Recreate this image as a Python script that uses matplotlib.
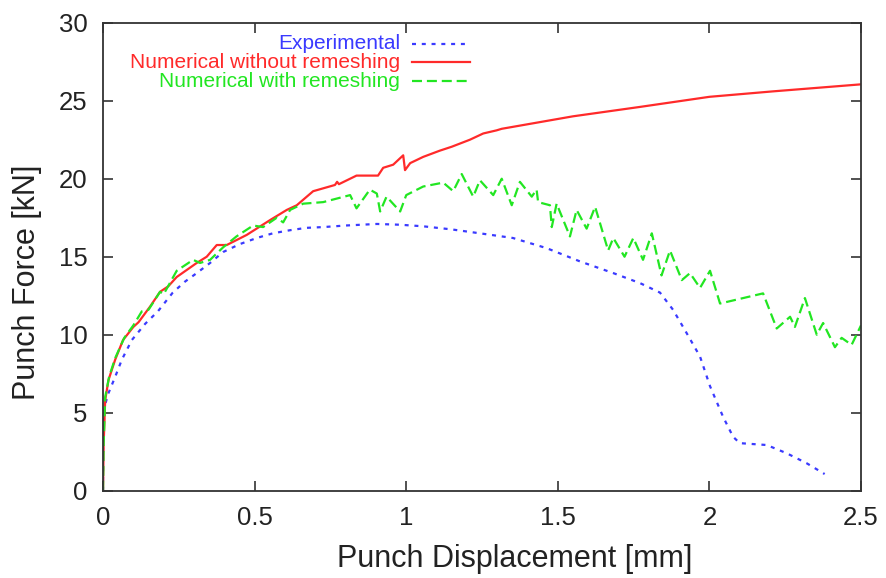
import matplotlib.pyplot as plt
from matplotlib.lines import Line2D

plt.rcParams['font.family'] = ['Liberation Sans', 'DejaVu Sans']

# Experimental
exp_x = [0, 0.0, 0.005, 0.018, 0.04, 0.062, 0.095, 0.139, 0.181, 0.23, 0.27, 0.309,
         0.353, 0.396, 0.45, 0.507, 0.56, 0.617, 0.67, 0.726, 0.8, 0.903, 0.98, 1.056,
         1.15, 1.243, 1.352, 1.463, 1.573, 1.683, 1.772, 1.837, 1.88, 1.925, 1.969,
         2.002, 2.045, 2.078, 2.1, 2.189, 2.255, 2.32, 2.38]
exp_y = [0, 3.0, 5.4, 6.26, 7.3, 8.4, 9.66, 10.7, 11.5, 12.7, 13.4, 13.95,
         14.6, 15.3, 15.8, 16.2, 16.5, 16.7, 16.85, 16.9, 17.0, 17.1, 17.05, 16.95,
         16.75, 16.5, 16.2, 15.55, 14.7, 13.95, 13.3, 12.7, 11.6, 10.1, 8.6,
         6.7, 4.74, 3.46, 3.05, 2.93, 2.4, 1.77, 1.07]

# Numerical without remeshing
nr_x = [0, 0.002, 0.007, 0.018, 0.04, 0.066, 0.1, 0.117, 0.155, 0.188, 0.215, 0.243,
        0.309, 0.342, 0.375, 0.408, 0.474, 0.551, 0.606, 0.639, 0.693, 0.765, 0.772,
        0.778, 0.836, 0.907, 0.924, 0.957, 0.99, 0.996, 1.013, 1.056, 1.111, 1.15,
        1.21, 1.254, 1.298, 1.315, 1.55, 1.77, 2.0, 2.21, 2.5]
nr_y = [0, 3.0, 5.8, 7.1, 8.4, 9.66, 10.5, 10.8, 11.8, 12.75, 13.1, 13.7,
        14.6, 15.0, 15.75, 15.75, 16.4, 17.35, 18.0, 18.3, 19.2, 19.6, 19.8,
        19.65, 20.2, 20.2, 20.7, 20.9, 21.5, 20.55, 21.0, 21.4, 21.8, 22.05,
        22.5, 22.9, 23.1, 23.2, 24.0, 24.6, 25.25, 25.6, 26.05]

# Numerical with remeshing
wr_x = [0, 0.002, 0.007, 0.02, 0.04, 0.07, 0.1, 0.128, 0.15, 0.188, 0.2, 0.243,
        0.297, 0.32, 0.353, 0.396, 0.44, 0.495, 0.528, 0.573, 0.594, 0.617, 0.66,
        0.726, 0.815, 0.836, 0.88, 0.903, 0.914, 0.935, 0.98, 1.0, 1.056, 1.122,
        1.155, 1.183, 1.221, 1.243, 1.287, 1.315, 1.348, 1.375, 1.414, 1.43, 1.435,
        1.474, 1.48, 1.496, 1.54, 1.562, 1.595, 1.623, 1.666, 1.683, 1.72, 1.749,
        1.781, 1.81, 1.842, 1.87, 1.909, 1.936, 1.969, 2.002, 2.035, 2.177, 2.222,
        2.266, 2.282, 2.315, 2.354, 2.375, 2.414, 2.436, 2.469, 2.5]
wr_y = [0, 3.0, 6.0, 7.3, 8.5, 9.8, 10.6, 11.5, 11.6, 12.75, 12.6, 14.1,
        14.8, 14.6, 14.8, 15.6, 16.3, 17.0, 16.9, 17.5, 17.2, 18.0, 18.4,
        18.5, 18.95, 18.1, 19.3, 19.05, 17.9, 18.85, 17.9, 18.95, 19.5, 19.75,
        19.2, 20.3, 18.85, 19.9, 18.95, 20.0, 18.3, 19.8, 18.85, 19.3, 18.5,
        18.3, 16.9, 18.4, 16.3, 18.0, 16.8, 18.2, 15.4, 16.2, 15.0, 16.2,
        14.8, 16.5, 13.8, 15.4, 13.5, 13.95, 13.0, 14.1, 12.0, 12.65, 10.4,
        11.15, 10.5, 12.35, 10.0, 10.75, 9.2, 9.8, 9.35, 10.6]

labels = ["Experimental", "Numerical without remeshing", "Numerical with remeshing"]
colors = ["#3a3aff", "#ff2a2a", "#22e622"]
styles = [(0, (1.8, 2.6)), "-", (0, (4.5, 2.2))]

fig = plt.figure(figsize=(8.86, 5.78), dpi=100)
ax = fig.add_axes([0.1163, 0.151, 0.8555, 0.8097])

series = [(exp_x, exp_y), (nr_x, nr_y), (wr_x, wr_y)]
for (xs, ys), c, ls in zip(series, colors, styles):
    ax.plot(xs, ys, color=c, linestyle=ls, linewidth=1.6)

ax.set_xlim(0, 2.5)
ax.set_ylim(0, 30)
ax.set_xticks([0, 0.5, 1, 1.5, 2, 2.5])
ax.set_xticklabels(["0", "0.5", "1", "1.5", "2", "2.5"])
ax.set_yticks(range(0, 31, 5))
ax.tick_params(direction='in', length=7, width=1.2, top=True, right=True,
               labelsize=18.5, pad=11, color='#333333', labelcolor='#222222')
for s in ax.spines.values():
    s.set_linewidth(1.3)
    s.set_color('#333333')

ax.set_xlabel("Punch Displacement [mm]", fontsize=22, color='#222222')
ax.xaxis.set_label_coords(0.5435, -0.114, transform=ax.transAxes)
ax.xaxis.label.set_va('top')
ax.set_ylabel("Punch Force [kN]", fontsize=22, color='#222222')
ax.yaxis.set_label_coords(-0.081, 0.446, transform=ax.transAxes)

# gnuplot-style key: text right-aligned, sample on the right
rows = [0.955, 0.915, 0.875]
for lab, c, ls, yy in zip(labels, colors, styles, rows):
    ax.text(0.392, yy, lab, transform=ax.transAxes, ha='right', va='center',
            fontsize=15, color=c)
    ax.add_line(Line2D([0.408, 0.484], [yy, yy], transform=ax.transAxes,
                       color=c, linestyle=ls, linewidth=1.6))

fig.savefig("out.png", dpi=100)
